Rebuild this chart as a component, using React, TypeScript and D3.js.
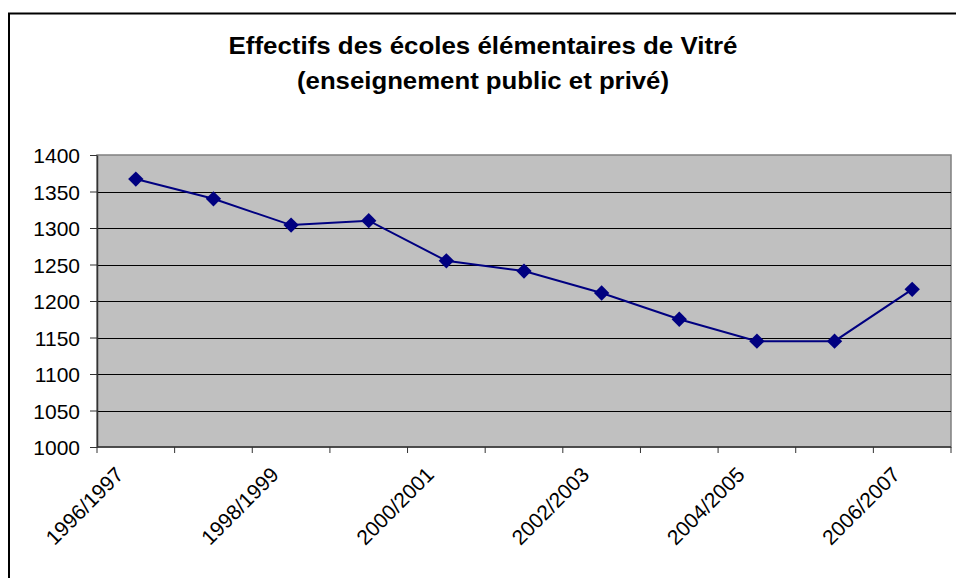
import React, { useRef, useEffect } from "react";
import * as d3 from "d3";

const years = [
  "1996/1997", "1997/1998", "1998/1999", "1999/2000", "2000/2001", "2001/2002",
  "2002/2003", "2003/2004", "2004/2005", "2005/2006", "2006/2007",
];
const effectifs = [1367, 1340, 1304, 1310, 1255, 1241, 1211, 1175, 1145, 1145, 1216];
const yTicks = [1000, 1050, 1100, 1150, 1200, 1250, 1300, 1350, 1400];
const titleLines = ["Effectifs des écoles élémentaires de Vitré", "(enseignement public et privé)"];

export default function App() {
  const svgRef = useRef<SVGSVGElement>(null);

  useEffect(() => {
    const svg = d3.select(svgRef.current);
    svg.selectAll("*").remove();

    const W = 956, H = 578;
    const plot = { left: 97, top: 155, right: 951, bottom: 447 };
    const font = "'Liberation Sans', Arial, sans-serif";

    svg.attr("width", W).attr("height", H);

    // chart frame
    svg.append("rect")
      .attr("x", 9).attr("y", 13.5)
      .attr("width", W + 10).attr("height", H + 10)
      .attr("fill", "white").attr("stroke", "black").attr("stroke-width", 2);

    // title
    svg.append("text")
      .attr("text-anchor", "middle")
      .style("font-family", font).style("font-weight", "bold").style("font-size", "24px")
      .selectAll("tspan").data(titleLines).enter().append("tspan")
      .attr("x", 483).attr("y", (d, i) => 54 + i * 35)
      .attr("textLength", (d, i) => (i === 0 ? 509 : 372))
      .attr("lengthAdjust", "spacingAndGlyphs")
      .text(d => d);

    const x = d3.scaleBand().domain(years).range([plot.left, plot.right]).paddingInner(0).paddingOuter(0);
    const y = d3.scaleLinear().domain([1000, 1400]).range([plot.bottom, plot.top]);

    // plot area
    svg.append("rect")
      .attr("x", plot.left).attr("y", plot.top)
      .attr("width", plot.right - plot.left).attr("height", plot.bottom - plot.top)
      .attr("fill", "#c0c0c0").attr("stroke", "#808080").attr("stroke-width", 1.5);

    // grid
    svg.append("g").selectAll("line").data(yTicks.filter(t => t > 1000 && t < 1400)).enter().append("line")
      .attr("x1", plot.left).attr("x2", plot.right)
      .attr("y1", d => Math.round(y(d)) + 0.5).attr("y2", d => Math.round(y(d)) + 0.5)
      .attr("stroke", "black").attr("stroke-width", 1);

    // y axis
    const yAxis = svg.append("g")
      .attr("transform", `translate(${plot.left},0)`)
      .call(d3.axisLeft(y).tickValues(yTicks).tickFormat(d3.format("d")).tickSize(7).tickPadding(10).tickSizeOuter(0));
    yAxis.select(".domain").attr("stroke", "#333").attr("stroke-width", 1.5);
    yAxis.selectAll(".tick line").attr("stroke", "#333");
    yAxis.selectAll("text")
      .attr("fill", "black").style("font-family", font).style("font-size", "21px")
      .attr("dy", "0.36em");

    // x axis: ticks at category boundaries
    const bounds = years.map(d => x(d) as number).concat([plot.right]);
    svg.append("line")
      .attr("x1", plot.left).attr("x2", plot.right)
      .attr("y1", plot.bottom).attr("y2", plot.bottom)
      .attr("stroke", "#333").attr("stroke-width", 1.5);
    svg.append("g").selectAll("line").data(bounds).enter().append("line")
      .attr("x1", d => d).attr("x2", d => d)
      .attr("y1", plot.bottom).attr("y2", plot.bottom + 6)
      .attr("stroke", "#333");

    svg.append("g").selectAll("text").data(years.filter((d, i) => i % 2 === 0)).enter().append("text")
      .attr("transform", d => `translate(${(x(d) as number) + x.bandwidth() / 2 - 11},${476}) rotate(-45)`)
      .attr("text-anchor", "end")
      .style("font-family", font).style("font-size", "21px")
      .text(d => d);

    // line
    const cx = (d: string) => (x(d) as number) + x.bandwidth() / 2;
    const line = d3.line<number>().x((d, i) => cx(years[i])).y(d => y(d));
    svg.append("path")
      .datum(effectifs)
      .attr("fill", "none").attr("stroke", "#000080").attr("stroke-width", 2)
      .attr("d", line);

    svg.append("g").selectAll("path").data(effectifs).enter().append("path")
      .attr("d", d3.symbol().type(d3.symbolDiamond2).size(150))
      .attr("transform", (d, i) => `translate(${cx(years[i])},${y(d)})`)
      .attr("fill", "#000080");
  }, []);

  return (
    <div style={{ position: "absolute", left: 0, top: 0 }}>
      <svg ref={svgRef}></svg>
    </div>
  );
}
